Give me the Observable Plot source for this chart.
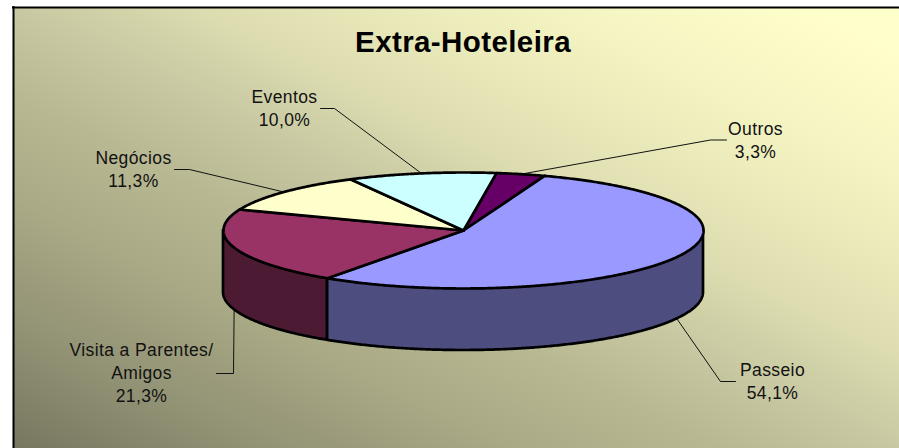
<!DOCTYPE html>
<html lang="pt">
<head>
<meta charset="utf-8">
<title>Extra-Hoteleira</title>
<script src="https://cdn.jsdelivr.net/npm/d3@7"></script>
<script src="https://cdn.jsdelivr.net/npm/@observablehq/plot@0.6"></script>
<style>
  html, body { margin: 0; padding: 0; background: #fff; overflow: hidden; }
</style>
</head>
<body>
<script>
// Chart data: motive of travel, percentage share, slice colours
const names = ["Outros", "Passeio", "Visita a Parentes/\nAmigos", "Negócios", "Eventos"];
const shares = [3.3, 54.1, 21.3, 11.3, 10.0];
const topColors = ["#660066", "#9999FF", "#993366", "#FFFFCC", "#CCFFFF"];
const wallColors = ["#330033", "#4D4D80", "#4D1A33", "#808066", "#668080"];

// Label anchors and leader-line elbows, in chart units
const labelX = [755, 772, 141, 133, 284];
const labelY = [138.5, 379.5, 371.5, 167.5, 107];
const elbowX = [[710, 726], [720, 735], [233, 216], [189, 174], [334, 320]];
const elbowY = [[139.5, 139.5], [381, 381], [373, 373], [169, 169], [108, 108]];

// Tilted pie geometry
const cx = 463, cy = 230, rx = 240, ry = 58, depth = 62, startAngle = 7.9;

const rad = (deg) => (deg * Math.PI) / 180;
const px = (deg) => cx + rx * Math.sin(rad(deg));
const py = (deg) => cy - ry * Math.cos(rad(deg));

// Turn the shares into angular spans, clockwise from twelve o'clock
let cursor = startAngle;
const slices = shares.map((share, i) => {
  const a0 = cursor;
  const a1 = a0 + (share / d3.sum(shares)) * 360;
  cursor = a1;
  return {i, a0, a1, mid: (a0 + a1) / 2};
});

const arc = (a0, a1) => {
  const n = Math.max(2, Math.ceil(a1 - a0) * 2);
  return d3.range(n + 1).map((k) => a0 + ((a1 - a0) * k) / n);
};

const topPath = (s) => [
  {x: cx, y: cy},
  ...arc(s.a0, s.a1).map((a) => ({x: px(a), y: py(a)})),
  {x: cx, y: cy}
];

// The rim is visible only on the near half of the ellipse
const wallPath = (s) => {
  const a0 = Math.max(s.a0, 90), a1 = Math.min(s.a1, 270);
  if (a1 <= a0) return [];
  return arc(a0, a1).map((a) => ({x: px(a), top: py(a), bottom: py(a) + depth}));
};

const leaderPath = (s) => {
  const onRim = s.mid > 90 && s.mid < 270;
  return [
    {x: px(s.mid), y: py(s.mid) + (onRim ? depth : 0)},
    {x: elbowX[s.i][0], y: elbowY[s.i][0]},
    {x: elbowX[s.i][1], y: elbowY[s.i][1]}
  ];
};

const percent = (v) => v.toFixed(1).replace(".", ",") + "%";
const labels = names.map((name, i) => ({
  x: labelX[i],
  y: labelY[i],
  text: `${name}\n${percent(shares[i])}`
}));

// Background gradient definition, referenced by the panel rect below
const gradientDefs = () => {
  const defs = d3.create("svg:defs");
  const g = defs.append("linearGradient")
    .attr("id", "panel")
    .attr("x1", 0).attr("y1", 1).attr("x2", 1).attr("y2", 0);
  [[0, "#777760"], [0.14, "#929275"], [0.28, "#a9a986"], [0.4, "#b8b892"], [0.5, "#c8c8a2"],
   [0.6, "#dcdcb0"], [0.8, "#f4f4c2"], [0.95, "#ffffcc"], [1, "#ffffcc"]]
    .forEach(([o, c]) => g.append("stop").attr("offset", o).attr("stop-color", c));
  return defs.node();
};

const chart = Plot.plot({
  width: 899,
  height: 448,
  margin: 0,
  x: {domain: [0, 899], range: [0, 899], axis: null},
  y: {domain: [0, 448], range: [0, 448], axis: null},
  style: {background: "#fff", letterSpacing: "0.4px"},
  marks: [
    gradientDefs,
    Plot.rect([{}], {x1: 13, x2: 899, y1: 7, y2: 448, fill: "url(#panel)"}),
    Plot.ruleX([13], {y1: 6, y2: 448, stroke: "#000", strokeWidth: 2}),
    Plot.ruleY([7], {x1: 12, x2: 899, stroke: "#000", strokeWidth: 2}),

    // Leader lines from each slice out to its label
    ...slices.map((s) =>
      Plot.line(leaderPath(s), {x: "x", y: "y", stroke: "#111", strokeWidth: 1})
    ),

    // Rim of the pie, then the slices on top of it
    ...slices.filter((s) => wallPath(s).length).map((s) =>
      Plot.areaY(wallPath(s), {
        x: "x", y1: "top", y2: "bottom",
        fill: wallColors[s.i], stroke: "#000", strokeWidth: 2.7, strokeLinejoin: "round"
      })
    ),
    ...slices.map((s) =>
      Plot.line(topPath(s), {
        x: "x", y: "y",
        fill: topColors[s.i], stroke: "#000", strokeWidth: 2.7, strokeLinejoin: "round"
      })
    ),

    Plot.text(labels, {
      x: "x", y: "y", text: "text",
      fontFamily: "Liberation Sans, Arial, sans-serif",
      fontSize: 17.5, lineHeight: 1.31, fill: "#111", textAnchor: "middle"
    }),
    Plot.text(["Extra-Hoteleira"], {
      x: cx - 0.5, y: 42,
      fontFamily: "Liberation Sans, Arial, sans-serif",
      fontSize: 29.5, fontWeight: "bold", fill: "#000", textAnchor: "middle"
    })
  ]
});

document.body.appendChild(chart);
</script>
</body>
</html>
